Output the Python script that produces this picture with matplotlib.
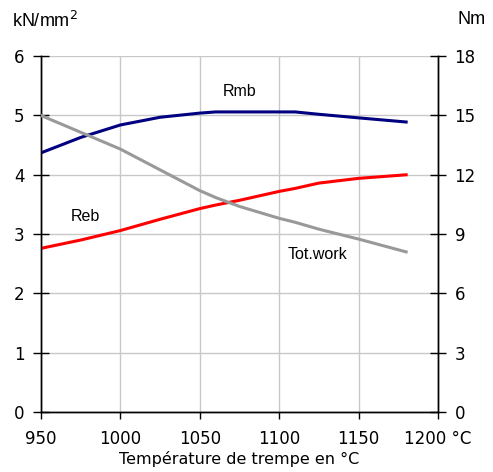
import matplotlib
matplotlib.use("Agg")
import matplotlib.pyplot as plt

# temperatures (°C)
temp = [950, 975, 1000, 1025, 1050, 1060, 1075, 1100, 1110, 1125, 1150, 1180]
# Rmb, kN/mm2
rmb = [4.37, 4.63, 4.84, 4.97, 5.04, 5.06, 5.06, 5.06, 5.06, 5.02, 4.96, 4.89]
# Reb, kN/mm2
reb = [2.76, 2.90, 3.06, 3.25, 3.43, 3.49, 3.57, 3.72, 3.77, 3.86, 3.94, 4.00]
# Tot.work, Nm
totwork = [15.0, 14.15, 13.3, 12.25, 11.2, 10.85, 10.4, 9.8, 9.6, 9.25, 8.75, 8.1]

xticks = [950, 1000, 1050, 1100, 1150, 1200]
xticklabels = ["950", "1000", "1050", "1100", "1150", "1200 °C"]

tickfont = "DejaVu Sans"
textfont = "Liberation Sans"

fig = plt.figure(figsize=(4.93, 4.72), dpi=100)
ax = fig.add_axes([0.0832, 0.127, 0.805, 0.754])
ax2 = ax.twinx()

ax.plot(temp, rmb, color="#000080", lw=2.2, zorder=3)
ax.plot(temp, reb, color="#ff0000", lw=2.2, zorder=3)
ax2.plot(temp, totwork, color="#999999", lw=2.2, zorder=3)

ax.set_xlim(950, 1200)
ax.set_ylim(0, 6)
ax2.set_ylim(0, 18)
ax.set_xticks(xticks)
ax.set_xticklabels(xticklabels, fontsize=12, family=tickfont)
ax.set_yticks(range(0, 7))
ax.set_yticklabels([str(v) for v in range(0, 7)], fontsize=12, family=tickfont)
ax2.set_yticks(range(0, 19, 3))
ax2.set_yticklabels([str(v) for v in range(0, 19, 3)], fontsize=12, family=tickfont)

ax.grid(True, color="#c8c8c8", lw=1.0)
ax.set_axisbelow(True)
for a in (ax, ax2):
    a.spines["top"].set_visible(False)
    a.spines["left"].set_linewidth(1.0)
    a.spines["right"].set_linewidth(1.0)
    a.spines["bottom"].set_linewidth(1.0)
ax.tick_params(axis="y", direction="inout", length=12, width=1.0, pad=6)
ax2.tick_params(axis="y", direction="inout", length=12, width=1.0, pad=6)
ax.tick_params(axis="x", direction="out", length=5, width=1.0, pad=8)

ax.set_xlabel("Température de trempe en °C", fontsize=11.5, family=tickfont, labelpad=2)

ax.text(1075, 5.40, "Rmb", fontsize=11.5, family=textfont, ha="center", va="center")
ax.text(978, 3.29, "Reb", fontsize=11.5, family=textfont, ha="center", va="center")
ax.text(1124, 2.65, "Tot.work", fontsize=11.5, family=textfont, ha="center", va="center")

fig.text(0.025, 0.955, "kN/mm$^2$", fontsize=13, family=textfont, ha="left", va="center")
fig.text(0.928, 0.958, "Nm", fontsize=13, family=textfont, ha="left", va="center")

fig.savefig("out.png", dpi=100)
